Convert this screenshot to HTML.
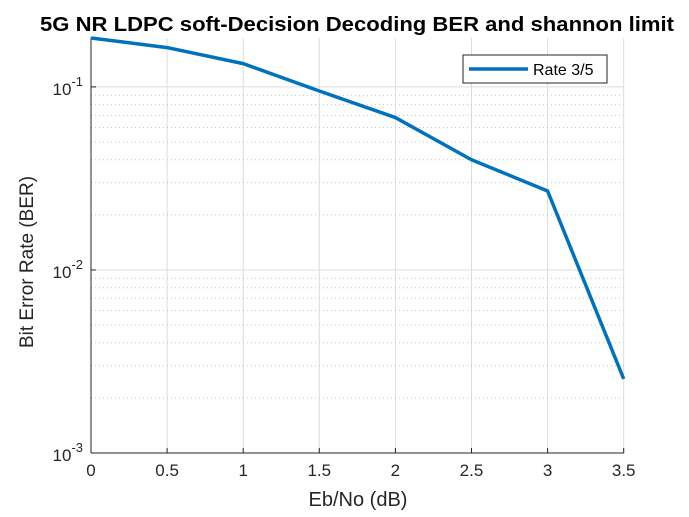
<!DOCTYPE html>
<html><head><meta charset="utf-8"><style>
body{margin:0;background:#fff;}
svg{display:block;font-family:"Liberation Sans",sans-serif;}
</style></head><body>
<svg id="chart" width="689" height="517"></svg>
<script>
const xValues=[0,0.5,1,1.5,2,2.5,3,3.5];
const berValues=[0.185,0.164,0.134,0.095,0.068,0.040,0.027,0.00254];
const xTicks=[0,0.5,1,1.5,2,2.5,3,3.5];
const xTickLabels=["0","0.5","1","1.5","2","2.5","3","3.5"];
const yDecades=[-3,-2,-1];
const seriesName="Rate 3/5";

const L=91,R=623.7,T=38,B=453;
const xMin=0,xMax=3.5,yMinLog=-3,yMaxLog=Math.log10(0.185);
const NS="http://www.w3.org/2000/svg";
const svg=document.getElementById('chart');
function xs(v){return L+(v-xMin)/(xMax-xMin)*(R-L);}
function ys(v){return B-(Math.log10(v)-yMinLog)/(yMaxLog-yMinLog)*(B-T);}
function mk(tag,attrs,parent){const e=document.createElementNS(NS,tag);for(const k in attrs)e.setAttribute(k,attrs[k]);(parent||svg).appendChild(e);return e;}

const grid=mk('g',{});


xTicks.forEach(t=>{mk('line',{x1:xs(t),x2:xs(t),y1:T,y2:B,stroke:'#dcdcdc','stroke-width':1},grid);});
yDecades.forEach(d=>{
  const base=Math.pow(10,d);
  mk('line',{x1:L,x2:R,y1:ys(base),y2:ys(base),stroke:'#dcdcdc','stroke-width':1},grid);
  for(let m=2;m<=9;m++){const v=m*base;if(Math.log10(v)>yMaxLog)break;
    mk('line',{x1:L,x2:R,y1:ys(v),y2:ys(v),stroke:'#c8c8c8','stroke-width':1,'stroke-dasharray':'1,3'},grid);}
});

const axes=mk('g',{});


mk('line',{x1:L,x2:L,y1:T,y2:B,stroke:'#262626','stroke-width':1},axes);
mk('line',{x1:L,x2:R,y1:B,y2:B,stroke:'#262626','stroke-width':1},axes);
xTicks.forEach((t,i)=>{
  mk('line',{x1:xs(t),x2:xs(t),y1:B,y2:B-5,stroke:'#262626'},axes);
  const tx=mk('text',{x:xs(t),y:B+23,'text-anchor':'middle','font-size':17,fill:'#262626'},axes);
  tx.textContent=xTickLabels[i];
  
  
});
yDecades.forEach(d=>{
  const y=ys(Math.pow(10,d));
  mk('line',{x1:L,x2:L+5,y1:y,y2:y,stroke:'#262626'},axes);
  const tx=mk('text',{x:L-8,y:y+8,'text-anchor':'end','font-size':17,fill:'#262626'},axes);
  tx.innerHTML='10<tspan dy="-9" font-size="13">'+d+'</tspan>';
  
  
});

const pts=xValues.map((x,i)=>xs(x)+','+ys(berValues[i])).join(' ');
const line=mk('polyline',{points:pts,fill:'none',stroke:'#0072bd','stroke-width':3.5,'stroke-linejoin':'round'});



const title=mk('text',{x:357,y:31,'text-anchor':'middle','font-size':20,'font-weight':'bold',fill:'#000',textLength:634,lengthAdjust:'spacingAndGlyphs'});
title.textContent='5G NR LDPC soft-Decision Decoding BER and shannon limit';


const xl=mk('text',{x:358,y:506,'text-anchor':'middle','font-size':20,fill:'#262626'});
xl.textContent='Eb/No (dB)';


const yl=mk('text',{x:0,y:0,'text-anchor':'middle','font-size':19,fill:'#262626',transform:'translate(33,262) rotate(-90)'});
yl.textContent='Bit Error Rate (BER)';



const lg=mk('g',{});


mk('rect',{x:463,y:55,width:144,height:28,fill:'#fff',stroke:'#262626','stroke-width':1},lg);
mk('line',{x1:469,x2:528,y1:69,y2:69,stroke:'#0072bd','stroke-width':3.5},lg);
const lt=mk('text',{x:533,y:75,'font-size':16,fill:'#000'},lg);
lt.textContent=seriesName;


</script>
</body></html>
